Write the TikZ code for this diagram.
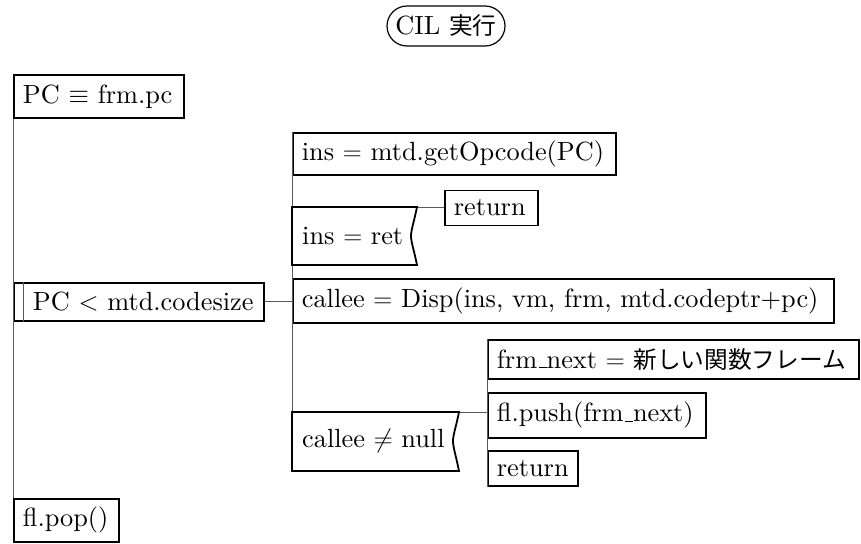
\RequirePackage{fix-cm}
\documentclass[tikz,border=0pt]{standalone}
\usepackage{fontspec}
\setmainfont{lmroman10-regular.otf}
\newfontfamily\jpfont{Noto Sans CJK JP}[Scale=0.9]
% low underscore as a rule sitting on the baseline
\newcommand\uscore{\leavevmode\kern.06em\vbox{\hrule height 1.05pt width .3em}}
% left-aligned text of fixed width, never wrapped
\newcommand\lefttext[2]{\makebox[#1][l]{#2}}
\begin{document}
\begin{tikzpicture}[x=1pt,y=-1pt,
  every node/.style={font=\fontsize{26.3}{31}\selectfont},
  box/.style={draw=black, line width=1.8pt, anchor=north west,
    inner xsep=9pt, inner ysep=0pt},
  label/.style={anchor=west, inner sep=0pt},
  seq/.style={draw=black!65, line width=1pt},
  outline/.style={draw=black, line width=1.8pt, line join=miter}]
\useasboundingbox (0,0) rectangle (861,543);

% start terminal
\node[draw=black, line width=1.2pt, rounded corners=20pt, minimum width=118pt,
  minimum height=40pt, inner sep=0pt] (title) at (446,26) {CIL \jpfont 実行};

% main sequence
\node[box, minimum height=43pt] (b1) at (13,74) {\lefttext{152pt}{PC $\equiv$ frm.pc}};
\node[box, minimum height=38pt] (loop) at (13,282)
  {\lefttext{232pt}{\hspace*{10pt}PC $<$ mtd.codesize}};
\node[box, minimum height=43pt] (pop) at (13,498) {\lefttext{87pt}{fl.pop()}};

% loop body
\node[box, minimum height=42pt] (op) at (292,132) {\lefttext{305pt}{ins $=$ mtd.getOpcode(PC)}};
\node[box, minimum height=35pt] (ret1) at (444,189.5) {\lefttext{75pt}{return}};
\node[box, minimum height=44pt] (call) at (292,278)
  {\lefttext{523pt}{callee $=$ Disp(ins, vm, frm, mtd.codeptr+pc)}};

% branch body
\node[box, minimum height=39pt] (next) at (487,339)
  {\lefttext{353pt}{frm\uscore next $=$ {\jpfont 新しい関数フレーム}}};
\node[box, minimum height=45pt] (push) at (487,392) {\lefttext{200pt}{fl.push(frm\uscore next)}};
\node[box, minimum height=35pt] (ret2) at (487,450) {\lefttext{72pt}{return}};

% selection boxes
\coordinate (s1nw) at (292,207);
\coordinate (s1ne) at (417,207);
\coordinate (s1se) at (417,265);
\coordinate (s1sw) at (292,265);
\coordinate (s2nw) at (292,412);
\coordinate (s2ne) at (459,412);
\coordinate (s2se) at (459,471);
\coordinate (s2sw) at (292,471);

% sequence lines and connectors
\draw[seq] (b1.south west) -- (pop.north west);
\draw[seq] (op.north west) -- (s2sw);
\draw[seq] (next.north west) -- (ret2.south west);
\draw[seq] (loop.east) -- (loop.east -| op.west);
\draw[seq] (s1ne) -- (s1ne -| ret1.west);
\draw[seq] (s2ne) -- (s2ne -| next.west);
\draw[seq] ([xshift=10pt]loop.north west) -- ([xshift=10pt]loop.south west);

\draw[outline, fill=white] (s1nw) -- (s1ne)
  .. controls (414,222) and (411,230) .. (411,236)
  .. controls (411,242) and (414,250) .. (s1se) -- (s1sw) -- cycle;
\node[label] (s1) at (302,236) {ins $=$ ret};

\draw[outline, fill=white] (s2nw) -- (s2ne)
  .. controls (456,427) and (453,435) .. (453,441)
  .. controls (453,447) and (456,456) .. (s2se) -- (s2sw) -- cycle;
\node[label] (s2) at (302,441) {callee $\neq$ null};
\end{tikzpicture}
\end{document}
